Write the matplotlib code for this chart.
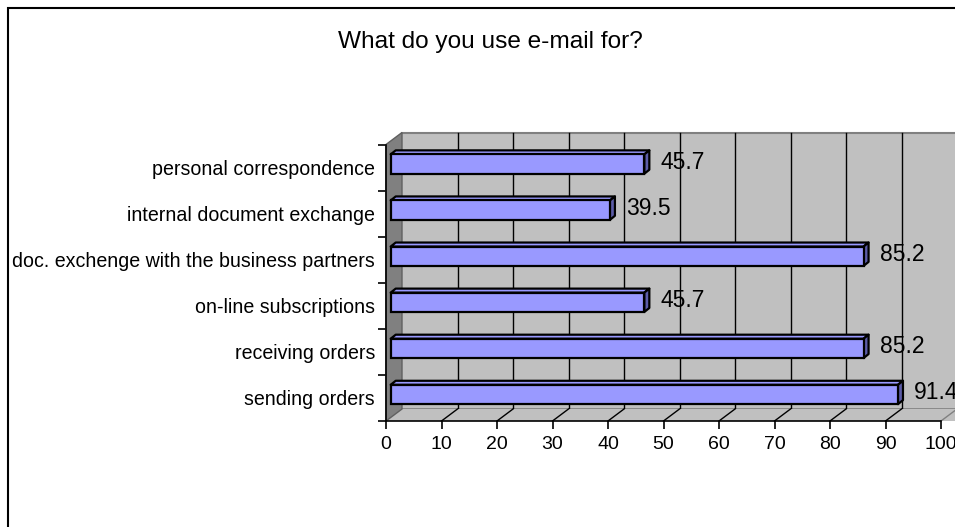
import matplotlib
matplotlib.use("Agg")
import matplotlib.pyplot as plt
import matplotlib.transforms as mtransforms
from matplotlib.patches import Polygon, Rectangle

plt.rcParams["font.family"] = ["Liberation Sans", "DejaVu Sans"]

# survey answers, bottom to top
categories = ["sending orders", "receiving orders", "on-line subscriptions",
              "doc. exchenge with the business partners",
              "internal document exchange", "personal correspondence"]
values = [91.4, 85.2, 45.7, 85.2, 39.5, 45.7]
xticks = [0, 10, 20, 30, 40, 50, 60, 70, 80, 90, 100]

W, H = 955, 527
fig = plt.figure(figsize=(W / 100, H / 100), dpi=100)
fig.patch.set_facecolor("white")

# front plane of the 3-D box
ax = fig.add_axes([386 / W, (H - 421) / H, 555 / W, 276.5 / H])
ax.set_xlim(0, 100)
ax.set_ylim(-0.5, len(categories) - 0.5)
ax.patch.set_visible(False)

# depth offsets in pixels
WALL = (16, 12)
BAR0 = (4.7, 3.5)
BAR1 = (9.7, 7.5)


def shifted(dx, dy):
    return mtransforms.offset_copy(ax.transData, fig=fig, x=dx, y=dy, units="dots")


def px(x, y, d=(0, 0)):
    p = ax.transData.transform((x, y))
    return (p[0] + d[0], p[1] + d[1])


def poly(points, **kw):
    ax.add_patch(Polygon(points, closed=True, transform=mtransforms.IdentityTransform(),
                         clip_on=False, **kw))


y0, y1 = -0.5, len(categories) - 0.5
xmax = xticks[-1]

# back wall
ax.add_patch(Rectangle((0, y0), xmax + 5, y1 - y0, transform=shifted(*WALL),
                       facecolor="#c0c0c0", edgecolor="none", clip_on=False, zorder=0))
ax.plot([0, xmax + 5], [y1, y1], color="#808080", lw=1.5, transform=shifted(*WALL),
        clip_on=False, zorder=1)
ax.plot([0, xmax + 5], [y0, y0], color="#808080", lw=1.2, transform=shifted(*WALL),
        clip_on=False, zorder=1)
for t in xticks[1:-1]:
    ax.plot([t, t], [y0, y1], color="black", lw=1, transform=shifted(*WALL),
            clip_on=False, zorder=1)

# floor
poly([px(0, y0), px(xmax + 5, y0), px(xmax + 5, y0, WALL), px(0, y0, WALL)],
     facecolor="#c0c0c0", edgecolor="none", zorder=1)
for t in xticks[1:]:
    a, b = px(t, y0), px(t, y0, WALL)
    ax.plot([a[0], b[0]], [a[1], b[1]], color="black" if t < xmax else "#808080",
            lw=1, transform=mtransforms.IdentityTransform(), clip_on=False, zorder=2)

# left side wall
poly([px(0, y0), px(0, y1), px(0, y1, WALL), px(0, y0, WALL)],
     facecolor="#808080", edgecolor="#606060", lw=1, zorder=2)

# bars: front face, top face, end face
h = 0.42
for i, v in enumerate(values):
    ax.barh(i, v, height=h, left=0, color="#9999ff", edgecolor="black", lw=1.6,
            transform=shifted(*BAR0), clip_on=False, zorder=5)
    poly([px(0, i + h / 2, BAR0), px(v, i + h / 2, BAR0),
          px(v, i + h / 2, BAR1), px(0, i + h / 2, BAR1)],
         facecolor="#9999ff", edgecolor="black", lw=1.6, joinstyle="round", zorder=4)
    poly([px(v, i - h / 2, BAR0), px(v, i + h / 2, BAR0),
          px(v, i + h / 2, BAR1), px(v, i - h / 2, BAR1)],
         facecolor="#5c5ca8", edgecolor="black", lw=1.6, joinstyle="round", zorder=4)
    ax.text(v, i, f"{v}", transform=shifted(21, 5.5), ha="left", va="center",
            fontsize=16.5, color="black", zorder=6, clip_on=False)

# axes lines and ticks
for side in ("top", "right"):
    ax.spines[side].set_visible(False)
for side in ("left", "bottom"):
    ax.spines[side].set_color("black")
    ax.spines[side].set_linewidth(1.2)
    ax.spines[side].set_zorder(3)
ax.set_xticks(xticks)
ax.tick_params(axis="x", direction="out", length=5.5, width=1.2, pad=5,
               labelsize=14, colors="black")
ax.set_yticks([k - 0.5 for k in range(len(categories) + 1)])
ax.set_yticklabels([])
ax.tick_params(axis="y", which="major", direction="out", length=6, width=1.2)
ax.set_yticks(range(len(categories)), minor=True)
ax.set_yticklabels(categories, minor=True)
ax.tick_params(axis="y", which="minor", length=0, pad=8, labelsize=14.1)

# chart title and outer border
fig.text(490 / W, 1 - 42 / H, "What do you use e-mail for?", ha="center", va="center",
         fontsize=17.6)
fig.patches.append(Rectangle((8 / W, -0.1), 1.2, 1 - 7.5 / H + 0.1,
                             transform=fig.transFigure, fill=False,
                             edgecolor="black", lw=1.5))

fig.savefig("out.png", dpi=100)
